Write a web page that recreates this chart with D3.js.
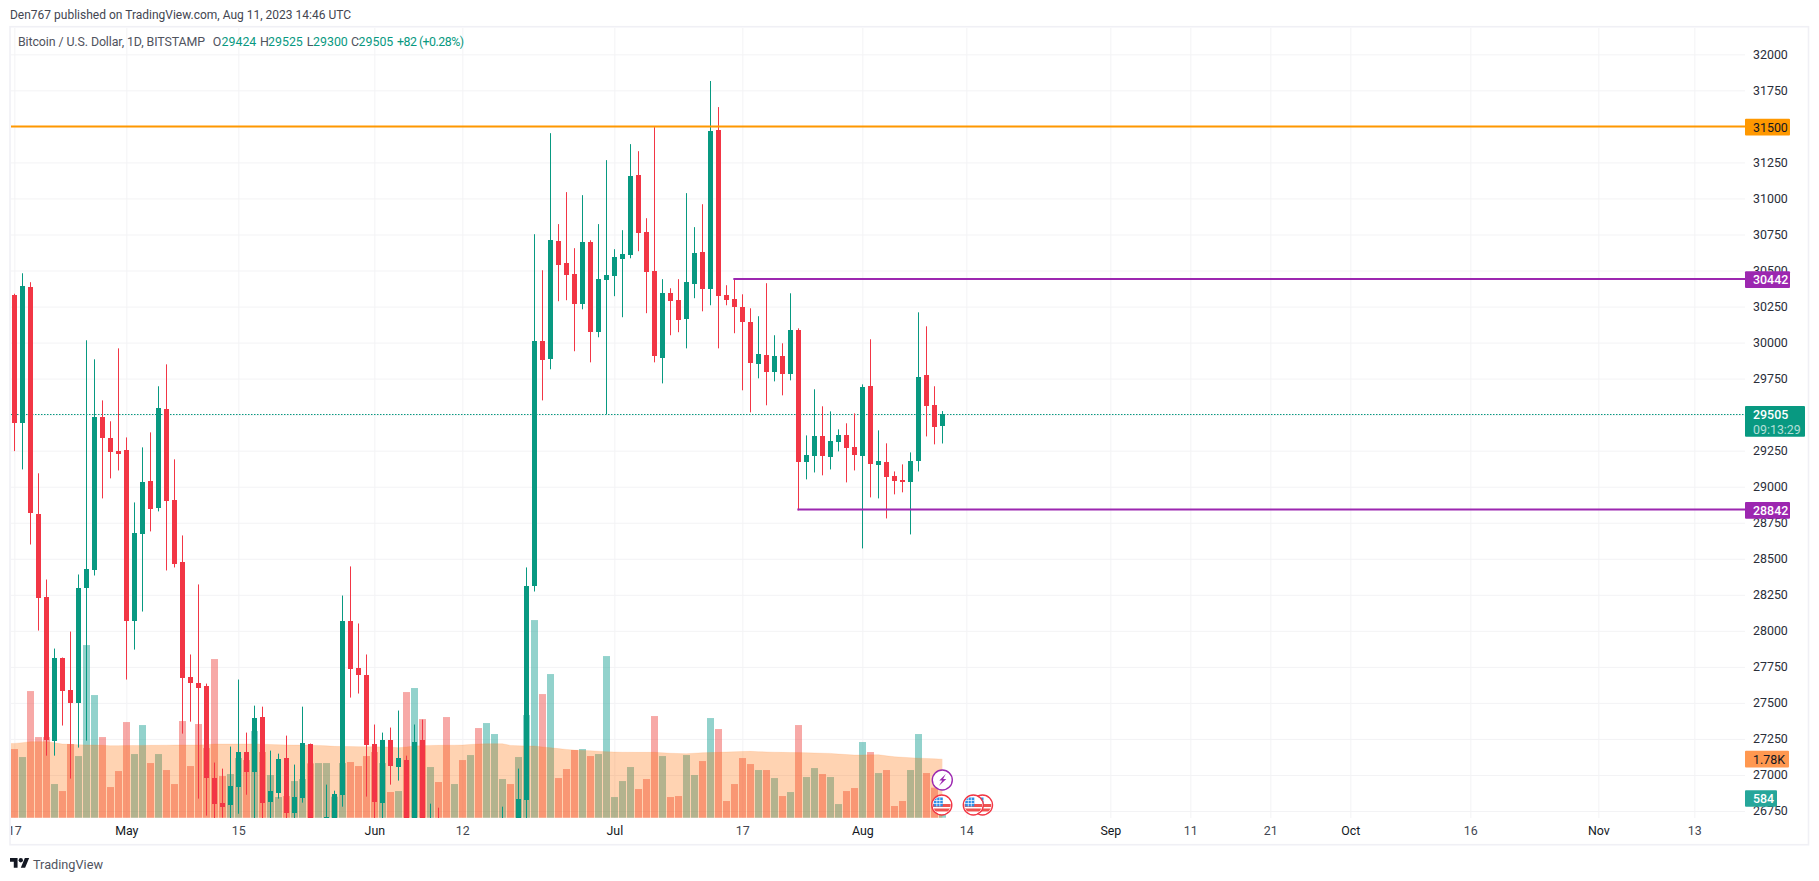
<!DOCTYPE html>
<html><head><meta charset="utf-8">
<script src="https://cdn.jsdelivr.net/npm/d3@7"></script>
<style>
html,body{margin:0;padding:0;background:#fff;overflow:hidden}
svg{display:block}
text{font-family:Roboto,"Noto Sans",sans-serif}
</style></head><body>
<div id="c"></div>
<script>
const firstDay="2023-04-17";
const opens=[30331,29442,30384,28808,28238,27238,27815,27593,27502,28294,28419,29481,29336,29245,29252,28065,28669,29037,28849,29537,28905,28481,27683,27641,27620,26981,26808,26794,26919,27162,27023,27405,26815,26877,27120,26738,26843,27218,26600,26613,26704,26863,28065,27745,27697,27218,26808,27245,27058,27106,26613,27245,26613,26690,26670,26610,26670,26600,26680,26600,26620,26620,26680,26579,26829,28308,30009,29884,30703,30551,30474,30266,30697,30072,30433,30460,30578,30606,31162,30766,30495,29891,30342,30294,30162,30405,30627,30370,31474,30329,30301,30245,30141,29849,29912,29794,29905,29780,30085,29169,29210,29349,29204,29308,29356,29273,29210,29697,29148,29169,29072,29044,29030,29176,29773,29565,29424];
const highs=[30339,30481,30419,29093,28356,27877,27815,27995,28391,30016,29884,29599,29454,29960,29342,28891,29273,29377,29697,29849,29190,28662,27836,28322,27634,27086,27044,27197,27662,27294,27481,27474,27169,27148,27273,27072,27474,27218,26680,26933,26891,28245,28447,28051,27836,27350,27294,27329,27447,27134,27350,27384,26801,26773,26690,26690,26690,26690,26690,26690,26690,26780,26690,27044,28440,30752,30502,31453,30822,31044,30655,31023,30710,30822,31266,30648,30780,31377,31328,30863,31495,30440,30377,30440,31037,30801,30960,31815,31634,30398,30440,30335,30238,30183,30412,30051,29995,30342,30099,29356,29676,29558,29523,29398,29440,29509,29710,30023,29391,29301,29106,29155,29238,30210,30113,29697,29525];
const lows=[29247,29120,28599,28002,27134,27134,27343,26975,27190,27238,28384,28919,29058,29113,27662,27870,28134,28690,28829,28419,28440,27287,27370,26836,26718,26648,26704,26648,26731,26863,26648,26648,26648,26836,26648,26648,26808,26579,26550,26579,26648,26780,27537,27565,26850,26648,26648,26933,26961,26544,26579,26544,26560,26560,26550,26560,26540,26550,26560,26560,26570,26580,26600,26520,26648,28273,29599,29815,30287,30294,29940,30231,29863,30037,29502,30322,30176,30585,30634,30204,29863,29717,30051,30072,29960,30308,30217,30259,29960,30259,30065,29669,29516,29752,29565,29731,29634,29738,28836,29051,29099,29079,29120,29245,29030,29113,28572,28926,28919,28780,28947,28961,28669,29106,29349,29294,29300];
const closes=[29442,30391,28817,28227,27245,27815,27586,27502,28294,28426,29481,29336,29238,29224,28065,28676,29030,28843,29544,28898,28461,27676,27641,27606,26981,26801,26780,26926,27162,27023,27398,26808,26891,27113,26738,26850,27225,26613,26630,26711,26870,28065,27738,27697,27211,26815,27245,27065,27120,26613,27231,26613,26683,26620,26600,26670,26600,26670,26610,26670,26680,26680,26640,26836,28308,30009,29877,30710,30537,30467,30266,30697,30072,30440,30467,30592,30613,31155,30759,30488,29905,30342,30287,30155,30419,30620,30370,31467,30322,30294,30245,30141,29856,29919,29794,29905,29780,30085,29169,29217,29349,29210,29315,29356,29266,29217,29690,29155,29176,29065,29037,29030,29176,29759,29558,29412,29505];
const volumes=[2087,1844,3849,2451,2451,1023,810,2239,1874,5247,3728,2451,932,1418,2907,1935,2816,1661,1935,1449,1023,2938,1570,2847,2117,4822,1266,1327,1813,1752,2634,1996,1297,628,658,1114,1175,1651,1661,1661,638,1661,1692,1570,1874,1996,1661,780,810,3819,3941,2998,1540,1084,3059,1023,1752,1904,2725,2877,2543,1175,1023,1844,3120,6007,3758,4366,1205,1479,2056,2087,1874,1935,4913,628,1114,1540,871,1175,3090,1874,628,658,1904,1297,1722,3029,2695,507,1023,1813,1631,1449,1449,1205,658,780,2816,1236,1509,1327,1236,415,810,902,2300,1996,1357,1449,355,507,1449,2543,1357,912,584];
// volume moving average, first value belongs to the day before the first candle
const volumeMA=[2245,2259,2280,2310,2310,2310,2279,2239,2230,2218,2212,2208,2200,2188,2190,2192,2195,2198,2200,2202,2205,2208,2208,2208,2208,2218,2239,2239,2239,2239,2239,2239,2235,2225,2218,2212,2208,2208,2200,2198,2185,2168,2165,2162,2160,2158,2155,2150,2148,2127,2150,2178,2190,2198,2200,2203,2205,2208,2225,2239,2245,2249,2249,2198,2188,2178,2178,2150,2127,2100,2075,2056,2045,2036,2022,2008,1996,1990,1988,1986,1986,1986,1975,1960,1950,1945,1960,1975,1980,1986,1995,2005,2012,2016,2008,2000,1992,1986,1982,1978,1975,1968,1960,1955,1935,1920,1904,1906,1910,1915,1880,1854,1838,1823,1810,1800,1790,1780];
const priceTicks=[32000,31750,31500,31250,31000,30750,30500,30250,30000,29750,29500,29250,29000,28750,28500,28250,28000,27750,27500,27250,27000,26750];
const timeTickDates=["2023-04-17","2023-05-01","2023-05-15","2023-06-01","2023-06-12","2023-07-01","2023-07-17","2023-08-01","2023-08-14","2023-09-01","2023-09-11","2023-09-21","2023-10-01","2023-10-16","2023-11-01","2023-11-13"];
const timeTickLabels=["17","May","15","Jun","12","Jul","17","Aug","14","Sep","11","21","Oct","16","Nov","13"];
const levels=[{v:31500,c:"#FF9800",t:"#131722",from:null},{v:30442,c:"#9C27B0",t:"#fff",from:"2023-07-16"},{v:28842,c:"#9C27B0",t:"#fff",from:"2023-07-24"}];
const lastPrice=29505, countdown="09:13:29";
const maLabel="1.78K", volLabel="584";
const headerText="Den767 published on TradingView.com, Aug 11, 2023 14:46 UTC";
const legendName="Bitcoin / U.S. Dollar, 1D, BITSTAMP";
const legendOHLC=[["O","29424"],["H","29525"],["L","29300"],["C","29505"]];
const legendChange="+82 (+0.28%)";
const green="#089981",red="#F23645";

const W=1819,H=881,L=11,R=1745,T=28,B=818;
const day=s=>new Date(s+"T00:00:00Z");
const d0=day(firstDay);
const dates=opens.map((_,i)=>d3.utcDay.offset(d0,i));
const x=d3.scaleUtc().domain([d0,day("2023-11-13")]).range([14.33,1694.33]);
const y=d3.scaleLinear().domain([32000,26750]).range([54.33,811]);
const yv=d3.scaleLinear().domain([0,6000]).range([817.7,620.3]);
const fx=d=>Math.floor(x(d));
const svg=d3.select("#c").append("svg").attr("width",W).attr("height",H);
const defs=svg.append("defs");
defs.append("clipPath").attr("id","pane").append("rect").attr("x",L).attr("y",T).attr("width",R-L).attr("height",B-T);
defs.append("clipPath").attr("id","bot").append("rect").attr("x",L).attr("y",T).attr("width",R-L).attr("height",H-T);

// frame
svg.append("rect").attr("x",10).attr("y",26.7).attr("width",1798.5).attr("height",818).attr("fill","none").attr("stroke","#F0F0F5").attr("stroke-width",1.6);
svg.append("text").attr("x",10).attr("y",19).attr("font-size",12).attr("fill","#434651").attr("textLength",341).text(headerText);

// axes + grid
const gridCol="#F3F3F5";
const ax=d3.axisBottom(x).tickValues(timeTickDates.map(day)).tickSizeInner(-(B-T)).tickSizeOuter(0).tickPadding(8)
  .tickFormat((d,i)=>timeTickLabels[i]);
const gxWrap=svg.append("g").attr("clip-path","url(#bot)");
const gx=gxWrap.append("g").attr("transform",`translate(0,${B})`).call(ax);
gx.select(".domain").remove();
gx.selectAll("line").attr("stroke",gridCol);
gx.selectAll("text").attr("font-size",12.4).attr("fill",(d,i)=>/[A-Z]/.test(timeTickLabels[i])?"#131722":"#434651").attr("font-family","Roboto");

const ay=d3.axisRight(y).tickValues(priceTicks).tickSizeInner(-(R-L)).tickSizeOuter(0).tickPadding(8).tickFormat(d3.format("d"));
const gy=svg.append("g").attr("transform",`translate(${R},0)`).call(ay);
gy.select(".domain").remove();
gy.selectAll("line").attr("stroke",gridCol);
gy.selectAll("text").attr("font-size",12.4).attr("fill","#2A2E39");

const pane=svg.append("g").attr("clip-path","url(#pane)");
// volume bars
pane.append("g").selectAll("rect").data(volumes).join("rect")
  .attr("x",(d,i)=>fx(dates[i])-3).attr("width",7)
  .attr("y",d=>yv(d)).attr("height",d=>yv(0)-yv(d))
  .attr("fill",(d,i)=>closes[i]>=opens[i]?"rgba(38,166,154,.5)":"rgba(239,83,80,.5)");
// volume MA
const area=d3.area().x((d,i)=>x(d3.utcDay.offset(d0,i-1))).y0(yv(0)).y1(d=>yv(d));
pane.append("path").datum(volumeMA).attr("d",area).attr("fill","rgba(255,109,0,.3)");
pane.append("path").datum(volumeMA).attr("d",d3.line().x((d,i)=>x(d3.utcDay.offset(d0,i-1))).y(d=>yv(d))).attr("fill","none").attr("stroke","rgba(255,109,0,.12)");

// last price dotted
pane.append("line").attr("x1",L).attr("x2",R).attr("y1",Math.round(y(lastPrice))+.5).attr("y2",Math.round(y(lastPrice))+.5)
  .attr("stroke",green).attr("stroke-dasharray","1.5 1.5");

// candles
const cg=pane.append("g").selectAll("g").data(opens).join("g");
const col=i=>closes[i]>=opens[i]?green:red;
cg.append("rect").attr("x",(d,i)=>fx(dates[i])).attr("width",1)
  .attr("y",(d,i)=>y(highs[i])).attr("height",(d,i)=>y(lows[i])-y(highs[i])).attr("fill",(d,i)=>col(i));
cg.append("rect").attr("x",(d,i)=>fx(dates[i])-2).attr("width",5)
  .attr("y",(d,i)=>Math.round(y(Math.max(opens[i],closes[i]))))
  .attr("height",(d,i)=>Math.max(1,Math.round(y(Math.min(opens[i],closes[i])))-Math.round(y(Math.max(opens[i],closes[i])))))
  .attr("fill",(d,i)=>col(i));

// levels
svg.append("g").selectAll("line").data(levels).join("line")
  .attr("x1",d=>d.from?x(day(d.from))-1:L).attr("x2",R)
  .attr("y1",d=>y(d.v)).attr("y2",d=>y(d.v)).attr("stroke",d=>d.c).attr("stroke-width",2);
const tag=(x0,w,cy,h,fill,txt,tc,weight)=>{
  svg.append("rect").attr("x",x0).attr("y",cy-h/2).attr("width",w).attr("height",h).attr("rx",1).attr("fill",fill);
  if(txt) svg.append("text").attr("x",R+8).attr("y",cy+4.6).attr("font-size",12.4).attr("fill",tc).attr("font-weight",weight||400).text(txt);
};
levels.forEach(l=>tag(R,45,y(l.v)+.8,16.7,l.c,String(l.v),l.t,l.t==="#fff"?500:400));
tag(R,60,421.4,30.7,green,null);
svg.append("text").attr("x",R+8).attr("y",419).attr("font-size",12.4).attr("font-weight",500).attr("fill","#fff").text(lastPrice);
svg.append("text").attr("x",R+8).attr("y",434).attr("font-size",12.4).attr("fill","#fff").attr("fill-opacity",.7).text(countdown);
tag(R,44,yv(1780),16.7,"#FF9850",maLabel,"#131722");
tag(R,32,yv(584),16.7,"#26A69A",volLabel,"#fff",500);

// legend
const lg=svg.append("g").attr("font-size",12.4);
lg.append("text").attr("x",18).attr("y",46).attr("fill","#50535E").attr("textLength",187).text(legendName);
const lx=[[212.7,221.5],[260,268],[306.7,313],[351,358.5]];
legendOHLC.forEach((d,i)=>{
  lg.append("text").attr("x",lx[i][0]).attr("y",46).attr("fill","#50535E").text(d[0]);
  lg.append("text").attr("x",lx[i][1]).attr("y",46).attr("fill",green).text(d[1]);
});
lg.append("text").attr("x",397).attr("y",46).attr("fill",green).attr("textLength",67).text(legendChange);

// event icons
function flag(cx,cy,id){
  const r=9;
  const g=svg.append("g");
  defs.append("clipPath").attr("id",id).append("circle").attr("cx",cx).attr("cy",cy).attr("r",r);
  g.append("circle").attr("cx",cx).attr("cy",cy).attr("r",10).attr("fill","#fff").attr("stroke","#F23645").attr("stroke-width",1.4);
  const f=g.append("g").attr("clip-path",`url(#${id})`);
  f.append("rect").attr("x",cx-r).attr("y",cy-r).attr("width",2*r).attr("height",2*r).attr("fill","#fff");
  f.append("rect").attr("x",cx-r).attr("y",cy-1).attr("width",2*r).attr("height",3).attr("fill","#EF5350");
  f.append("rect").attr("x",cx-r).attr("y",cy+3.5).attr("width",2*r).attr("height",3).attr("fill","#EF5350");
  f.append("rect").attr("x",cx-r+1).attr("y",cy-7.5).attr("width",9).attr("height",9).attr("fill","#2F8FE8");
  f.append("path").attr("d",`M${cx-5} ${cy-7.5}v9M${cx-2} ${cy-7.5}v9M${cx-8} ${cy-4.5}h9M${cx-8} ${cy-1.5}h9`).attr("stroke","#fff").attr("stroke-width",.7);
}
flag(982.5,805,"f3");flag(973.3,805,"f2");flag(941.8,805,"f1");
const lc=svg.append("g").attr("transform","translate(942.3,780)");
lc.append("circle").attr("r",10).attr("fill","#fff").attr("stroke","#9C27B0").attr("stroke-width",1.4);
lc.append("path").attr("d","M3.5 -6 L-3 0.5 L0 0.5 L-3.5 6 L4 -1 L0.8 -1 Z").attr("fill","#9C27B0");

// footer logo
const lgo=svg.append("g").attr("transform","translate(10,855.9) scale(.54)").attr("fill","#131722");
lgo.append("path").attr("d","M14 22H7V11H0V4h14v18zM28 22h-8l7.5-18h8L28 22z");
lgo.append("circle").attr("cx",20).attr("cy",8).attr("r",4);
svg.append("text").attr("x",33).attr("y",868.5).attr("font-size",13.6).attr("fill","#50535E").attr("textLength",70).attr("lengthAdjust","spacingAndGlyphs").text("TradingView");
</script>
</body></html>
